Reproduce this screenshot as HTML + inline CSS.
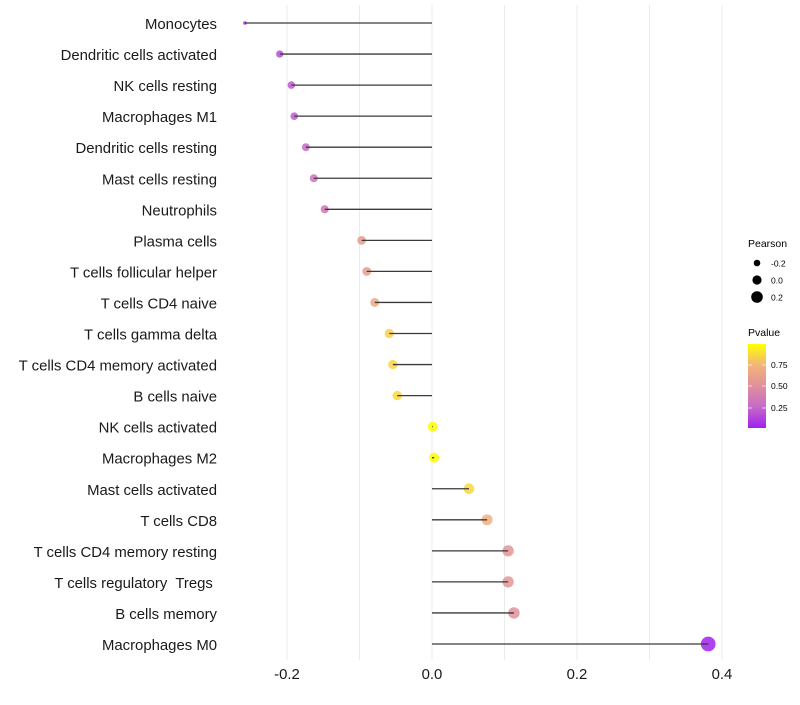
<!DOCTYPE html>
<html><head><meta charset="utf-8"><style>
body{margin:0;background:#fff;font-family:"Liberation Sans",sans-serif;}
svg text{font-family:"Liberation Sans",sans-serif;}
</style></head><body>
<svg id="chart" width="800" height="700" xmlns="http://www.w3.org/2000/svg">
<g id="grid"></g>
<g id="marks"></g>
<g id="ylabels"></g>
<g id="xlabels"></g>
<g>
<text x="748" y="247" font-size="10.5" fill="#000">Pearson</text>
<circle cx="757" cy="263" r="3.3" fill="#000"/>
<text x="771" y="266.5" font-size="8.5" fill="#000">-0.2</text>
<circle cx="757" cy="280" r="4.6" fill="#000"/>
<text x="771" y="283.5" font-size="8.5" fill="#000">0.0</text>
<circle cx="757" cy="297" r="5.8" fill="#000"/>
<text x="771" y="300.5" font-size="8.5" fill="#000">0.2</text>
</g>
<g>
<defs><linearGradient id="pg" x1="0" y1="1" x2="0" y2="0">
<stop offset="0" stop-color="#a020f0"/><stop offset="0.25" stop-color="#c66ac8"/><stop offset="0.5" stop-color="#e0909c"/><stop offset="0.75" stop-color="#f2b47a"/><stop offset="1" stop-color="#ffff00"/>
</linearGradient></defs>
<text x="748" y="336" font-size="10.5" fill="#000">Pvalue</text>
<rect x="748" y="344" width="18" height="84" fill="url(#pg)"/>
<g stroke="#fff" stroke-width="0.8" opacity="0.8"><line x1="748" x2="752" y1="365" y2="365"/><line x1="762" x2="766" y1="365" y2="365"/><line x1="748" x2="752" y1="386" y2="386"/><line x1="762" x2="766" y1="386" y2="386"/><line x1="748" x2="752" y1="408" y2="408"/><line x1="762" x2="766" y1="408" y2="408"/></g>
<text x="771" y="368" font-size="8.5">0.75</text><text x="771" y="389" font-size="8.5">0.50</text><text x="771" y="411" font-size="8.5">0.25</text>
</g>
</svg>
<script>
const categories=["Monocytes","Dendritic cells activated","NK cells resting","Macrophages M1","Dendritic cells resting","Mast cells resting","Neutrophils","Plasma cells","T cells follicular helper","T cells CD4 naive","T cells gamma delta","T cells CD4 memory activated","B cells naive","NK cells activated","Macrophages M2","Mast cells activated","T cells CD8","T cells CD4 memory resting","T cells regulatory  Tregs ","B cells memory","Macrophages M0"];
const pearson=[-0.258,-0.210,-0.194,-0.190,-0.174,-0.163,-0.148,-0.097,-0.090,-0.079,-0.059,-0.054,-0.048,0.001,0.003,0.051,0.076,0.105,0.105,0.113,0.381];
const pvalue=[0.04,0.17,0.2,0.21,0.26,0.31,0.34,0.58,0.6,0.68,0.84,0.86,0.87,0.99,0.98,0.87,0.72,0.55,0.55,0.52,0.02];
const xTicks=[-0.2,0.0,0.2,0.4];
const xTickLabels=["-0.2","0.0","0.2","0.4"];
const gridVals=[-0.2,-0.1,0,0.1,0.2,0.3,0.4];
const NS="http://www.w3.org/2000/svg";
const xs=v=>432+v*725;
const ys=i=>23+i*31.05;
const rs=v=>v<-0.24?1.8:5.0+6.2*v;
const stops=[[0,[160,32,240]],[0.25,[198,106,200]],[0.5,[224,144,156]],[0.75,[242,180,122]],[1,[255,255,0]]];
function col(p){const t=Math.max(0,Math.min(1,(p-0.016)/(0.996-0.016)));for(let k=1;k<stops.length;k++){if(t<=stops[k][0]){const a=stops[k-1],b=stops[k],f=(t-a[0])/(b[0]-a[0]);return "rgb("+a[1].map((c,j)=>Math.round(c+(b[1][j]-c)*f)).join(",")+")";}}return "rgb(255,255,0)";}
function mk(t,at,par){const e=document.createElementNS(NS,t);for(const k in at)e.setAttribute(k,at[k]);par.appendChild(e);return e;}
const grid=document.getElementById('grid'),marks=document.getElementById('marks'),yl=document.getElementById('ylabels'),xl=document.getElementById('xlabels');
gridVals.forEach(v=>{const l=mk('line',{x1:xs(v),x2:xs(v),y1:5,y2:660,stroke:'#ebebeb','stroke-width':1},grid);

});
categories.forEach((c,i)=>{
const y=ys(i);
const pt=mk('circle',{cx:xs(pearson[i]),cy:y,r:rs(pearson[i]),fill:col(pvalue[i]),'fill-opacity':0.85},marks);


const seg=mk('line',{x1:xs(0),x2:xs(pearson[i]),y1:y,y2:y,stroke:'#3a3a3a','stroke-width':1.3},marks);


const t=mk('text',{x:217,y:y+6,'text-anchor':'end','font-size':14.9,fill:'#1a1a1a'},yl);
t.textContent=c;


t.setAttribute('xml:space','preserve');t.style.whiteSpace='pre';
});
xTicks.forEach((v,i)=>{const t=mk('text',{x:xs(v),y:679,'text-anchor':'middle','font-size':14.9,fill:'#1a1a1a'},xl);
t.textContent=xTickLabels[i];

});
</script>
</body></html>
